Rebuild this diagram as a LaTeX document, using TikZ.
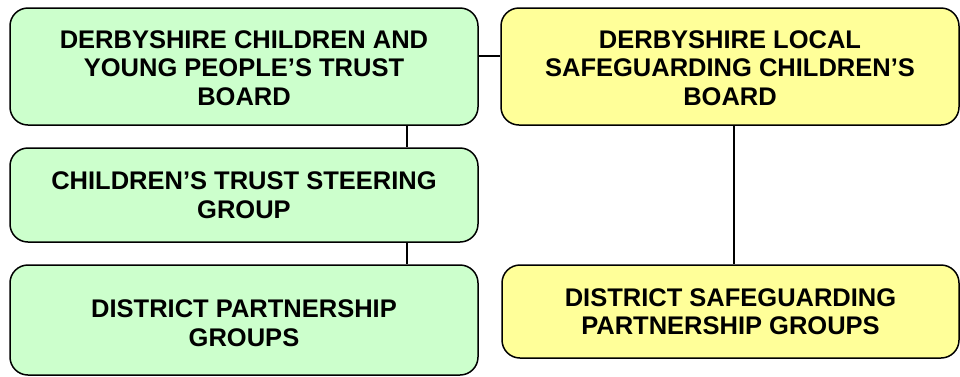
\documentclass[tikz,border=0pt]{standalone}
\usepackage{fontspec}
\setmainfont{Liberation Sans}
\definecolor{boxgreen}{HTML}{CCFFCC}
\definecolor{boxyellow}{HTML}{FFFF99}
\begin{document}
\begin{tikzpicture}[x=1pt,y=-1pt,
  orgbox/.style={draw=black,line width=1.5pt,rounded corners=18pt,
    rectangle,inner sep=0pt},
  greenbox/.style={orgbox,fill=boxgreen,minimum width=468pt},
  yellowbox/.style={orgbox,fill=boxyellow,minimum width=458pt},
  boxtext/.style={font=\fontsize{25.5}{28.5}\selectfont\bfseries,align=center,inner sep=0pt},
  link/.style={draw=black,line width=1.3pt}]
\useasboundingbox (0,0) rectangle (960,376);
\node[greenbox,minimum height=117pt] (a) at (244,66.5) {};
\node[yellowbox,minimum height=117pt] (b) at (730,66.5) {};
\node[greenbox,minimum height=94pt] (c) at (244,195) {};
\node[greenbox,minimum height=110pt] (d) at (244,320) {};
\node[yellowbox,minimum width=457pt,minimum height=93pt] (e) at (730.5,311.5) {};
\node[boxtext,yshift=-1.5pt] (at) at (a) {DERBYSHIRE CHILDREN AND\\YOUNG PEOPLE’S TRUST\\BOARD};
\node[boxtext,yshift=-1.5pt] (bt) at (b) {DERBYSHIRE LOCAL\\SAFEGUARDING CHILDREN’S\\BOARD};
\node[boxtext] (ct) at (c) {CHILDREN’S TRUST STEERING\\GROUP};
\node[boxtext,yshift=-3pt] (dt) at (d) {DISTRICT PARTNERSHIP\\GROUPS};
\node[boxtext] (et) at (e) {DISTRICT SAFEGUARDING\\PARTNERSHIP GROUPS};
\draw[link] ([yshift=10.5pt]a.east) -- ([yshift=10.5pt]b.west);
\draw[link] ([xshift=163pt]a.south) -- ([xshift=163pt]c.north);
\draw[link] ([xshift=163pt]c.south) -- ([xshift=163pt]d.north);
\draw[link] ([xshift=4pt]b.south) -- ([xshift=3.5pt]e.north);
\end{tikzpicture}
\end{document}
